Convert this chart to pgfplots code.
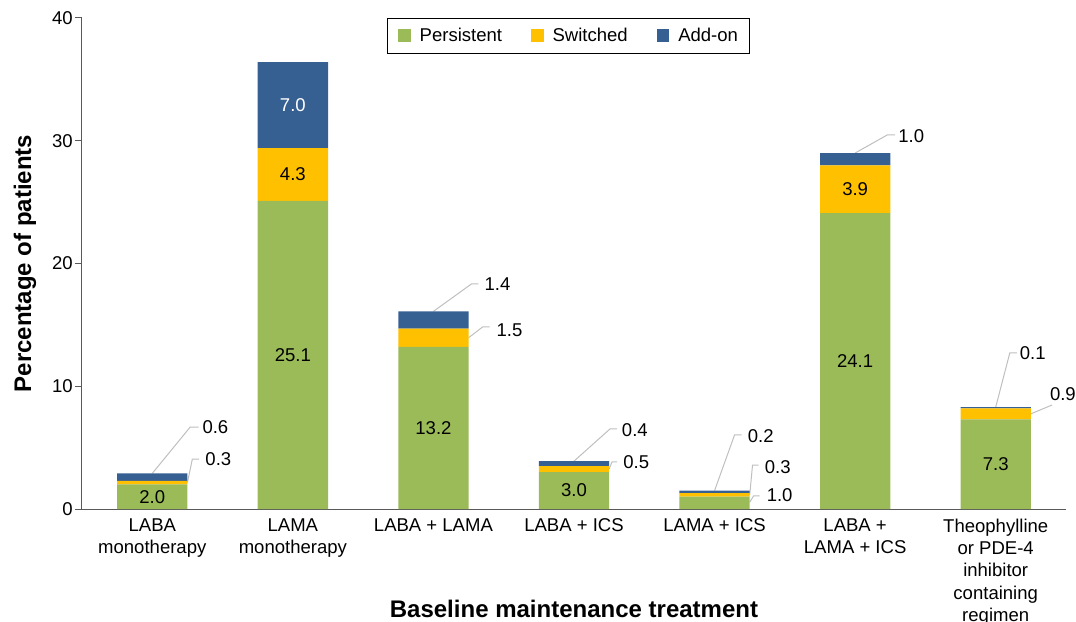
\documentclass[border=0pt]{standalone}
\usepackage{pgfplots}
\pgfplotsset{compat=1.18}
\usepackage{pgfplotstable}
\usepackage{fontspec}
\setmainfont{Liberation Sans}
\definecolor{cgreen}{RGB}{155,187,89}
\definecolor{cyellow}{RGB}{255,192,0}
\definecolor{cblue}{RGB}{54,96,146}
\definecolor{caxis}{RGB}{89,89,89}
\definecolor{clead}{RGB}{191,191,191}
\newcommand{\mylfont}{\fontsize{18.6}{23.4}\selectfont}
\newcommand{\mytfont}{\fontsize{18.6}{22.5}\selectfont}
\newcommand{\mybfont}{\fontsize{24.1}{28}\selectfont\bfseries}
\tikzset{lbl/.style={font=\mylfont, inner sep=0pt}}
\pgfplotstableread{
x per sw add
0 2.0 0.3 0.6
1 25.1 4.3 7.0
2 13.2 1.5 1.4
3 3.0 0.5 0.4
4 1.0 0.3 0.2
5 24.1 3.9 1.0
6 7.3 0.9 0.1
}\datatable
\begin{document}
\begin{tikzpicture}
\useasboundingbox (-82bp,-113bp) rectangle (994bp,509bp);
\begin{axis}[
  at={(0,0)}, anchor=south west,
  width=984bp, height=491bp, scale only axis,
  ybar stacked, bar width=0.5,
  xmin=-0.5, xmax=6.5, ymin=0, ymax=40,
  ytick={0,10,20,30,40},
  xtick={0,1,2,3,4,5,6},
  xticklabels={{LABA\\monotherapy},{LAMA\\monotherapy},{LABA + LAMA},{LABA + ICS},{LAMA + ICS},{LABA +\\LAMA + ICS},{Theophylline\\or PDE-4\\inhibitor\\containing\\regimen}},
  axis x line*=bottom, axis y line*=left,
  axis line style={caxis, line width=1bp},
  x tick style={draw=none},
  y tick style={caxis, line width=1bp},
  tick align=outside, major tick length=7bp,
  xticklabel style={align=center, font=\mytfont, anchor=north, inner sep=0pt, yshift=-2.5bp},
  yticklabel style={font=\mylfont, inner xsep=2bp},
  /pgf/number format/assume math mode=true,
  ylabel={Percentage of patients},
  ylabel style={at={(axis description cs:-0.058,0.5)}, anchor=center, font=\mybfont},
  xlabel={Baseline maintenance treatment},
  xlabel style={at={(axis description cs:0.5,0)}, anchor=base, yshift=-108bp, font=\mybfont},
  clip=false,
  legend columns=3,
  legend image code/.code={\path[#1, draw=none] (0bp,-6bp) rectangle (12.5bp,6.5bp);},
  legend style={at={(0.494,1)}, anchor=north, draw=black, line width=0.8bp, fill=white,
    font=\mylfont, inner xsep=11bp, inner ysep=4bp,
    /tikz/every odd column/.append style={column sep=9bp},
    /tikz/every even column/.append style={column sep=29bp},
    nodes={inner xsep=0bp, inner ysep=6bp}},
]
\addplot[fill=cgreen, draw=none] table[x=x, y=per]{\datatable};
\addlegendentry{Persistent}
\addplot[fill=cyellow, draw=none] table[x=x, y=sw]{\datatable};
\addlegendentry{Switched}
\addplot[fill=cblue, draw=none] table[x=x, y=add]{\datatable};
\addlegendentry{Add-on}

\coordinate (i1) at (0,1.0);
\coordinate (i2) at (1,12.55);
\coordinate (i3) at (1,27.25);
\coordinate (i4) at (1,32.9);
\coordinate (i5) at (2,6.6);
\coordinate (i6) at (3,1.5);
\coordinate (i7) at (5,12.05);
\coordinate (i8) at (5,26.05);
\coordinate (i9) at (6,3.65);

\draw[clead, line width=1bp] (0,2.9) -- (0.27,6.68) -- (0.33,6.68);
\draw[clead, line width=1bp] (0.25,2.15) -- (0.285,4.07) -- (0.334,4.07);
\draw[clead, line width=1bp] (2,16.1) -- (2.27,18.33) -- (2.32,18.33);
\draw[clead, line width=1bp] (2.25,13.95) -- (2.35,14.83) -- (2.40,14.83);
\draw[clead, line width=1bp] (3,3.9) -- (3.256,6.52) -- (3.306,6.52);
\draw[clead, line width=1bp] (3.25,3.25) -- (3.27,3.83) -- (3.306,3.83);
\draw[clead, line width=1bp] (4,1.5) -- (4.142,6.03) -- (4.192,6.03);
\draw[clead, line width=1bp] (4.25,1.15) -- (4.27,3.58) -- (4.313,3.58);
\draw[clead, line width=1bp] (4.25,0.55) -- (4.277,1.06) -- (4.32,1.06);
\draw[clead, line width=1bp] (5,29.0) -- (5.228,30.47) -- (5.285,30.47);
\draw[clead, line width=1bp] (6,8.3) -- (6.1,12.71) -- (6.15,12.71);
\draw[clead, line width=1bp] (6.25,7.75) -- (6.4,8.47);

\node[lbl, anchor=west] at (0.356,6.68) {0.6};
\node[lbl, anchor=west] at (0.377,4.07) {0.3};
\node[lbl, anchor=west] at (2.363,18.33) {1.4};
\node[lbl, anchor=west] at (2.448,14.6) {1.5};
\node[lbl, anchor=west] at (3.34,6.4) {0.4};
\node[lbl, anchor=west] at (3.35,3.83) {0.5};
\node[lbl, anchor=west] at (4.235,5.95) {0.2};
\node[lbl, anchor=west] at (4.356,3.45) {0.3};
\node[lbl, anchor=west] at (4.37,1.12) {1.0};
\node[lbl, anchor=west] at (5.306,30.35) {1.0};
\node[lbl, anchor=west] at (6.17,12.7) {0.1};
\node[lbl, anchor=west] at (6.385,9.37) {0.9};
\end{axis}
\node[lbl] at (i1) {2.0};
\node[lbl] at (i2) {25.1};
\node[lbl] at (i3) {4.3};
\node[lbl, text=white] at (i4) {7.0};
\node[lbl] at (i5) {13.2};
\node[lbl] at (i6) {3.0};
\node[lbl] at (i7) {24.1};
\node[lbl] at (i8) {3.9};
\node[lbl] at (i9) {7.3};
\end{tikzpicture}
\end{document}
